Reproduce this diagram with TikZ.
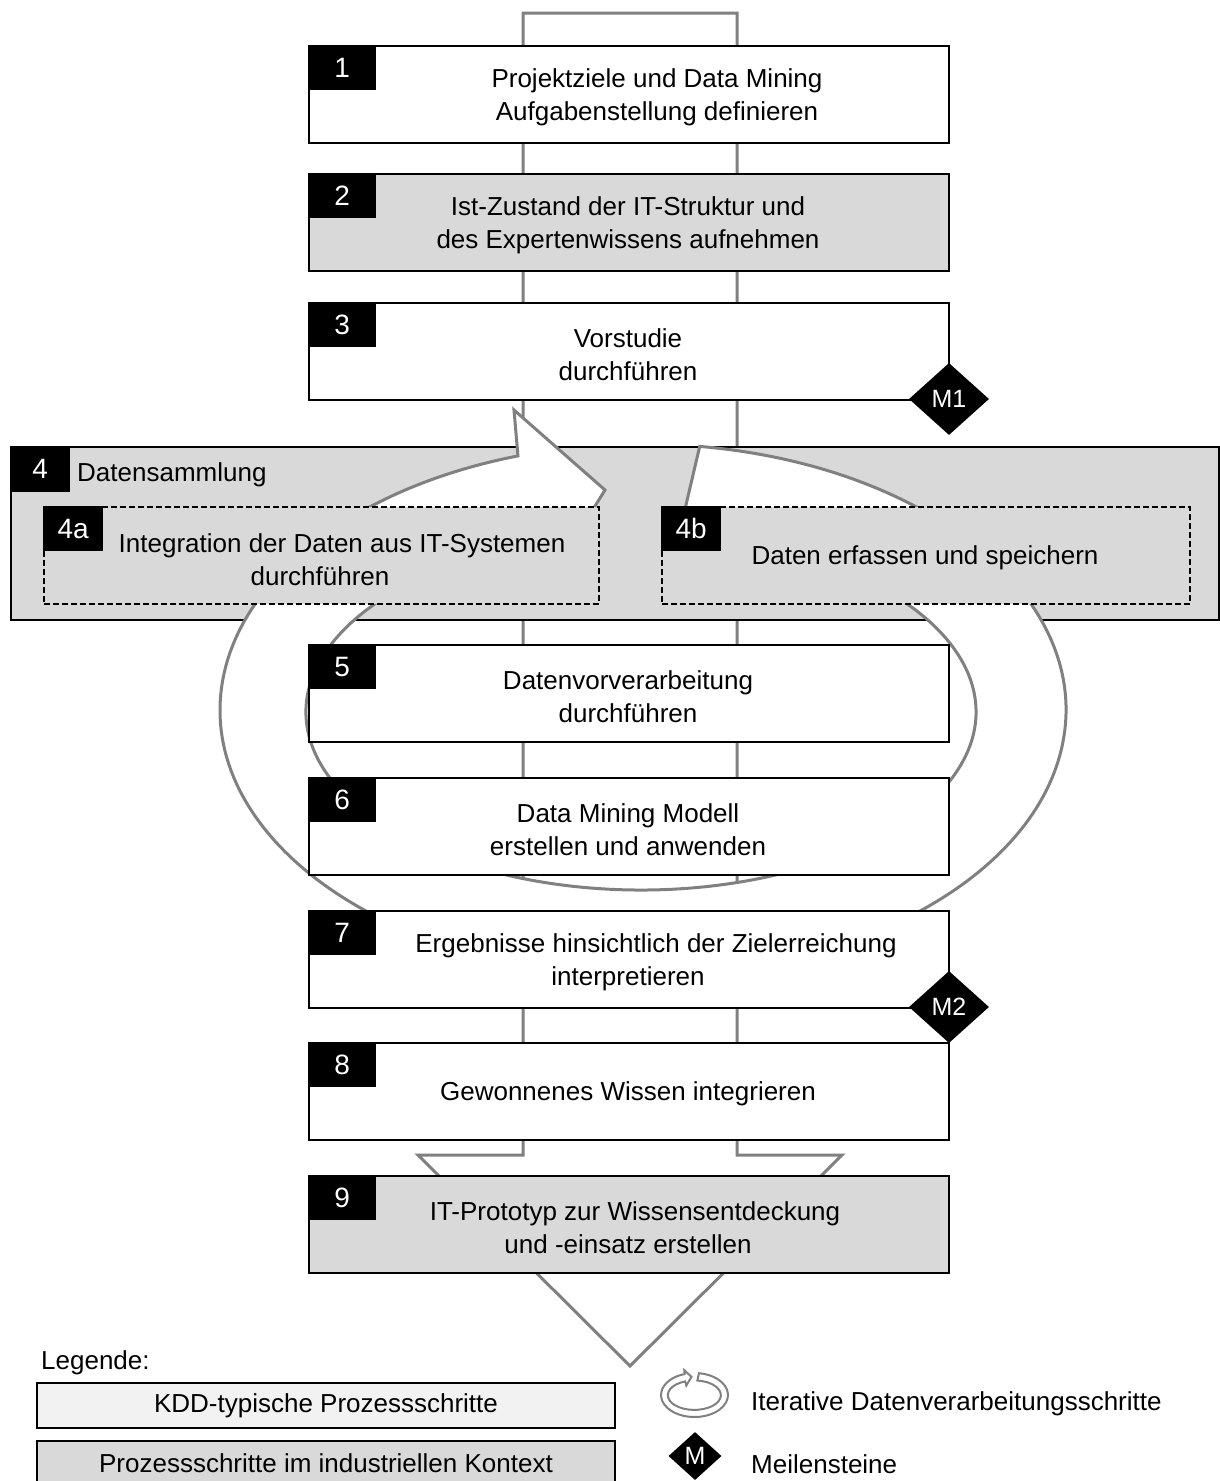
\documentclass[tikz,border=0pt]{standalone}
\usepackage{fontspec}
\setmainfont{Liberation Sans}
\usetikzlibrary{shapes.geometric}
\definecolor{stepgray}{HTML}{D9D9D9}
\definecolor{legendlight}{HTML}{F2F2F2}
\definecolor{flowgray}{HTML}{808080}

\tikzset{
  ringline/.style={draw=flowgray, fill=white, line join=miter},
  % ring-shaped loop arrow: outer and inner ellipse, head on the left, cut tail on the right
  pics/loopring/.style={code={
    \draw[ringline] (56.7,263.6)
      arc[start angle=82.3, end angle=-252.8, x radius=423, y radius=266]
      -- (-129,300) -- (-38,220) -- (-103,115) -- (-118.5,164.9)
      arc[start angle=110.35, end angle=443.5, x radius=335, y radius=178]
      -- cycle;
  }},
}

\begin{document}
\begin{tikzpicture}[x=1pt, y=1pt,
  every node/.style={font=\fontsize{26}{33}\selectfont, inner sep=0pt},
  boxbase/.style={draw=black, line width=2pt, minimum width=640pt, minimum height=97pt, anchor=north west},
  kddbox/.style={boxbase, fill=white},
  indbox/.style={boxbase, fill=stepgray},
  numtag/.style={fill=black, text=white, font=\fontsize{28}{28}\selectfont, minimum width=68pt, minimum height=45pt, anchor=north west},
  subbox/.style={draw=black, line width=2pt, dash pattern=on 6pt off 3pt, fill=stepgray, minimum height=97pt, anchor=north west},
  steptext/.style={align=center, yshift=-4pt},
  stepline/.style={yshift=-3pt},
  channel/.style={draw=flowgray, line width=3pt, line join=miter},
  milestone/.style={diamond, fill=black, text=white, font=\fontsize{25}{25}\selectfont, minimum width=80pt, minimum height=72pt},
]
\useasboundingbox (0,0) rectangle (1220,-1481);

% process channel with arrow tip at the bottom
\coordinate (chtip) at (630,-1366);
\coordinate (chlw) at (418,-1155);
\coordinate (chli) at (523,-1155);
\coordinate (chlt) at (523,-13);
\coordinate (chrt) at (737,-13);
\coordinate (chri) at (737,-1155);
\coordinate (chrw) at (842,-1155);
\draw[channel] (chtip) -- (chlw) -- (chli) -- (chlt) -- (chrt) -- (chri) -- (chrw) -- cycle;

% step 4: data collection
\node[indbox, minimum width=1208pt, minimum height=173pt] (s4) at (10,-446) {};
\node[numtag, minimum width=60pt, minimum height=46pt] (n4) at (10,-446) {4};
\node[anchor=west] (s4t) at (77,-475) {Datensammlung};

% iteration loop
\pic[line width=3pt] (loopbig) at (643,-710) {loopring};

% sub steps 4a and 4b
\node[subbox, minimum width=555pt] (s4a) at (43,-506) {};
\node[numtag, minimum width=60pt] (n4a) at (43,-506) {4a};
\node[steptext] (s4at) at (320,-556) {\hspace*{44pt}Integration der Daten aus IT-Systemen\\durchführen};
\node[subbox, minimum width=528pt] (s4b) at (661,-506) {};
\node[numtag, minimum width=60pt] (n4b) at (661,-506) {4b};
\node[stepline] (s4bt) at (925,-555) {Daten erfassen und speichern};

% main steps
\node[kddbox] (s1) at (308,-45) {};
\node[numtag] (n1) at (308,-45) {1};
\node[steptext] (s1t) at (657,-93.5) {Projektziele und Data Mining\\Aufgabenstellung definieren};

\node[indbox] (s2) at (308,-173) {};
\node[numtag] (n2) at (308,-173) {2};
\node[steptext] (s2t) at (628,-221.5) {Ist-Zustand der IT-Struktur und\\des Expertenwissens aufnehmen};

\node[kddbox] (s3) at (308,-302) {};
\node[numtag] (n3) at (308,-302) {3};
\node[steptext] (s3t) at (628,-350.5) {Vorstudie\\durchführen};

\node[kddbox] (s5) at (308,-644) {};
\node[numtag] (n5) at (308,-644) {5};
\node[steptext] (s5t) at (628,-692.5) {Datenvorverarbeitung\\durchführen};

\node[kddbox] (s6) at (308,-777) {};
\node[numtag] (n6) at (308,-777) {6};
\node[steptext] (s6t) at (628,-825.5) {Data Mining Modell\\erstellen und anwenden};

\node[kddbox] (s7) at (308,-910) {};
\node[numtag] (n7) at (308,-910) {7};
\node[steptext] (s7t) at (628,-958.5) {\hspace*{56pt}Ergebnisse hinsichtlich der Zielerreichung\\interpretieren};

\node[kddbox] (s8) at (308,-1042) {};
\node[numtag] (n8) at (308,-1042) {8};
\node[stepline] (s8t) at (628,-1090.5) {Gewonnenes Wissen integrieren};

\node[indbox] (s9) at (308,-1175) {};
\node[numtag] (n9) at (308,-1175) {9};
\node[steptext] (s9t) at (628,-1223.5) {\hspace*{14pt}IT-Prototyp zur Wissensentdeckung\\und -einsatz erstellen};

% milestones
\node[milestone] (m1) at (949,-399) {M1};
\node[milestone] (m2) at (949,-1007) {M2};

% legend
\node[anchor=west] (legtitle) at (41,-1363) {Legende:};
\node[draw=black, line width=2pt, fill=legendlight, minimum width=578pt, minimum height=45pt, anchor=north west] (legkdd) at (36,-1382) {KDD-typische Prozessschritte};
\node[draw=black, line width=2pt, fill=stepgray, minimum width=578pt, minimum height=45pt, anchor=north west] (legind) at (36,-1440) {Prozessschritte im industriellen Kontext};
\pic[xscale=0.0792, yscale=0.0827, line width=2pt] (loopsmall) at (694.5,-1395) {loopring};
\node[anchor=west] (legloop) at (751,-1404) {Iterative Datenverarbeitungsschritte};
\node[milestone, minimum width=53pt, minimum height=48pt, font=\fontsize{25}{25}\selectfont] (legm) at (695,-1456) {M};
\node[anchor=west] (legmtext) at (751,-1464) {Meilensteine};
\end{tikzpicture}
\end{document}
